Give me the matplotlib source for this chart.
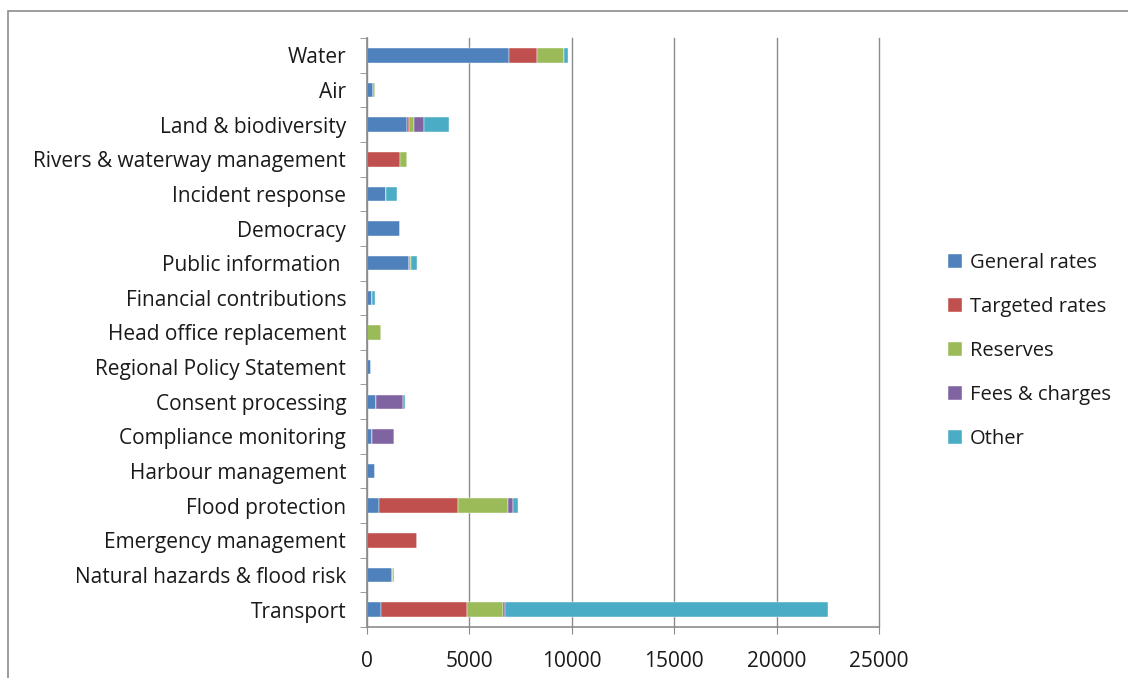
import matplotlib.pyplot as plt
import numpy as np
from matplotlib.patches import Rectangle

plt.rcParams['font.family'] = ['Open Sans', 'DejaVu Sans']

categories = ['Water', 'Air', 'Land & biodiversity', 'Rivers & waterway management',
              'Incident response', 'Democracy', 'Public information ',
              'Financial contributions', 'Head office replacement',
              'Regional Policy Statement', 'Consent processing',
              'Compliance monitoring', 'Harbour management', 'Flood protection',
              'Emergency management', 'Natural hazards & flood risk', 'Transport']

general_rates = [6930, 290, 1970, 0, 910, 1610, 2050, 245, 0, 195, 425, 265, 410, 590, 0, 1220, 670]
targeted_rates = [1350, 0, 100, 1610, 0, 0, 0, 0, 0, 0, 0, 0, 0, 3850, 2460, 0, 4230]
reserves = [1320, 120, 210, 340, 0, 0, 80, 0, 700, 0, 0, 0, 0, 2430, 0, 70, 1760]
fees_charges = [0, 0, 520, 0, 15, 0, 0, 0, 0, 0, 1315, 1055, 0, 240, 0, 0, 90]
other = [230, 0, 1190, 0, 520, 0, 330, 120, 0, 0, 100, 0, 0, 280, 0, 50, 15770]

series = [('General rates', general_rates, '#4F81BD'),
          ('Targeted rates', targeted_rates, '#C0504D'),
          ('Reserves', reserves, '#9BBB59'),
          ('Fees & charges', fees_charges, '#8064A2'),
          ('Other', other, '#4BACC6')]

fig = plt.figure(figsize=(11.28, 6.78), dpi=100)
ax = fig.add_axes([0.3254, 0.0752, 0.4539, 0.8688])

# outer chart frame
fig.patches.append(Rectangle((8 / 1128, -0.05), 1.1, 1.05 - 11 / 678,
                             transform=fig.transFigure, fill=False,
                             edgecolor='#8c8c8c', linewidth=1.2))

y = np.arange(len(categories))
left = np.zeros(len(categories))
for name, vals, color in series:
    vals = np.array(vals, dtype=float)
    ax.barh(y, vals, left=left, height=0.42, color=color, label=name,
            edgecolor='white', linewidth=0.3)
    left += vals

ax.set_ylim(len(categories) - 0.5, -0.5)
ax.set_xlim(0, 25000)
ax.set_xticks(np.arange(0, 25001, 5000))
ax.xaxis.grid(True, color='#8c8c8c', linewidth=1)
for gl in ax.get_xgridlines():
    gl.set_clip_on(False)
ax.set_axisbelow(True)

ax.set_yticks(y)
ax.set_yticklabels(categories, fontsize=15, color='#1a1a1a')
ax.set_yticks(np.arange(-0.5, len(categories), 1), minor=True)
ax.tick_params(axis='y', which='major', length=0, pad=15)
ax.tick_params(axis='y', which='minor', length=5, color='#8c8c8c', direction='out')
ax.tick_params(axis='x', length=5, color='#8c8c8c', labelsize=15,
               labelcolor='#1a1a1a', pad=12)

for side in ['top', 'right']:
    ax.spines[side].set_visible(False)
for side in ['left', 'bottom']:
    ax.spines[side].set_color('#8c8c8c')
    ax.spines[side].set_linewidth(1.2)

leg = fig.legend(loc='center left', bbox_to_anchor=(0.824, 0.482), frameon=False,
                 fontsize=14.5, labelspacing=1.19, handlelength=0.7, handleheight=0.7,
                 handletextpad=0.4)
for t in leg.get_texts():
    t.set_color('#1a1a1a')

fig.savefig('out.png', dpi=100)
